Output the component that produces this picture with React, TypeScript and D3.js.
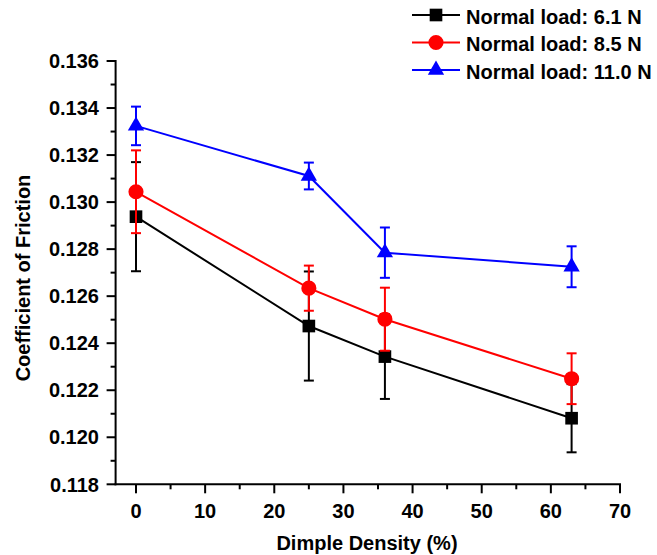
import React from "react";
import * as d3 from "d3";

const densities = [0, 25, 36, 63];
const load61 = [0.12938, 0.12473, 0.12343, 0.12081];
const err61 = [0.00232, 0.00232, 0.0018, 0.00145];
const load85 = [0.13044, 0.12634, 0.12502, 0.12249];
const err85 = [0.00176, 0.00096, 0.00134, 0.00108];
const load110 = [0.13324, 0.13111, 0.12785, 0.12725];
const err110 = [0.00082, 0.00057, 0.00107, 0.00087];
const seriesNames = ["Normal load: 6.1 N", "Normal load: 8.5 N", "Normal load: 11.0 N"];
const xTicks = [0, 10, 20, 30, 40, 50, 60, 70];
const yTicks = [0.118, 0.12, 0.122, 0.124, 0.126, 0.128, 0.13, 0.132, 0.134, 0.136];

const W = 657;
const H = 555;
const FONT = "'Liberation Sans', Arial, sans-serif";

export default function App() {
  const x = d3.scaleLinear().domain([-2.95, 70]).range([115.6, 620]);
  const y = d3.scaleLinear().domain([0.118, 0.136]).range([484.3, 61]);

  const series = [
    { name: seriesNames[0], vals: load61, errs: err61, color: "#000000", shape: "square" },
    { name: seriesNames[1], vals: load85, errs: err85, color: "#ff0000", shape: "circle" },
    { name: seriesNames[2], vals: load110, errs: err110, color: "#0000ff", shape: "triangle" },
  ];

  const line = d3
    .line<[number, number]>()
    .x((d) => x(d[0]))
    .y((d) => y(d[1]));

  const sym = (shape: string) => {
    if (shape === "square") return d3.symbol().type(d3.symbolSquare).size(160)()!;
    if (shape === "circle") return d3.symbol().type(d3.symbolCircle).size(180)()!;
    return d3.symbol().type(d3.symbolTriangle).size(115)()!;
  };

  const xMinor = d3.range(5, 70, 10);
  const yMinor = d3.range(0, 9).map((i) => 0.119 + i * 0.002);

  const x0 = x.range()[0];
  const yb = y.range()[0];

  return (
    <svg
      width={W}
      height={H}
      style={{ position: "absolute", left: 0, top: 0, background: "#fff" }}
      fontFamily={FONT}
      fontWeight="bold"
    >
      <rect x={0} y={0} width={W} height={H} fill="#fff" />
      {/* series lines */}
      {series.map((s) => (
        <path
          key={"l" + s.name}
          d={line(densities.map((d, i) => [d, s.vals[i]] as [number, number]))!}
          fill="none"
          stroke={s.color}
          strokeWidth={2}
        />
      ))}
      {/* error bars and markers */}
      {series.map((s) => (
        <g key={"e" + s.name}>
          {densities.map((d, i) => {
            const cx = x(d);
            const top = y(s.vals[i] + s.errs[i]);
            const bot = y(s.vals[i] - s.errs[i]);
            return (
              <g key={i} stroke={s.color} strokeWidth={2}>
                <line x1={cx} x2={cx} y1={top} y2={bot} />
                <line x1={cx - 5} x2={cx + 5} y1={top} y2={top} />
                <line x1={cx - 5} x2={cx + 5} y1={bot} y2={bot} />
              </g>
            );
          })}
          {densities.map((d, i) => (
            <path
              key={"m" + i}
              d={sym(s.shape)}
              transform={`translate(${x(d)},${y(s.vals[i])})`}
              fill={s.color}
            />
          ))}
        </g>
      ))}
      {/* axes */}
      <g stroke="#000" strokeWidth={2}>
        <line x1={x0} x2={x0} y1={y.range()[1] - 1} y2={yb + 1} />
        <line x1={x0 - 1} x2={x.range()[1] + 1} y1={yb} y2={yb} />
        {yTicks.map((t) => (
          <line key={"yt" + t} x1={x0 - 9} x2={x0} y1={y(t)} y2={y(t)} />
        ))}
        {yMinor.map((t) => (
          <line key={"ym" + t} x1={x0 - 5} x2={x0} y1={y(t)} y2={y(t)} />
        ))}
        {xTicks.map((t) => (
          <line key={"xt" + t} x1={x(t)} x2={x(t)} y1={yb} y2={yb + 9} />
        ))}
        {xMinor.map((t) => (
          <line key={"xm" + t} x1={x(t)} x2={x(t)} y1={yb} y2={yb + 5} />
        ))}
      </g>
      {yTicks.map((t) => (
        <text key={"yl" + t} x={99} y={y(t)} dy="0.36em" textAnchor="end" fontSize={20} fill="#000">
          {t.toFixed(3)}
        </text>
      ))}
      {xTicks.map((t) => (
        <text key={"xl" + t} x={x(t)} y={517.5} textAnchor="middle" fontSize={20} fill="#000">
          {t}
        </text>
      ))}
      <text x={367} y={550} textAnchor="middle" fontSize={20} fill="#000">
        Dimple Density (%)
      </text>
      <text
        transform={`translate(30,278) rotate(-90)`}
        textAnchor="middle"
        fontSize={20}
        fill="#000"
      >
        Coefficient of Friction
      </text>
      {/* legend */}
      {series.map((s, i) => {
        const ly = 15 + i * 27.5;
        return (
          <g key={"lg" + s.name}>
            <line x1={412} x2={460} y1={ly} y2={ly} stroke={s.color} strokeWidth={2} />
            <path d={sym(s.shape)} transform={`translate(436,${ly})`} fill={s.color} />
            <text x={466} y={ly + 8.5} fontSize={20} fill="#000">
              {s.name}
            </text>
          </g>
        );
      })}
    </svg>
  );
}
